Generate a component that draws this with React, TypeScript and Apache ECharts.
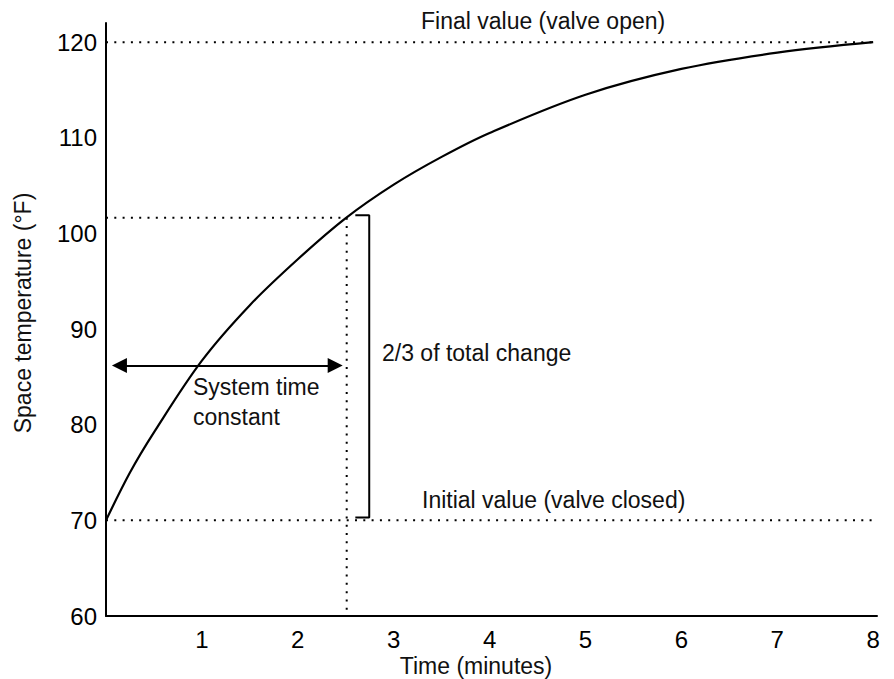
import React, { useEffect, useRef } from "react";
import * as echarts from "echarts";

// Curve
const timeMin = [0, 0.25, 0.5, 1, 1.5, 2, 2.5, 3, 3.5, 4, 5, 6, 7, 8];
const tempF = [70, 75.0, 79.2, 86.7, 92.5, 97.3, 101.6, 105.1, 108.0, 110.5, 114.5, 117.2, 118.9, 120];

// Reference levels
const initialValue = 70;
const finalValue = 120;
const tauValue = 101.65; // ~63% of the change
const tauTime = 2.51;
const bracketTop = 101.9;
const bracketBottom = 70.3;
const bracketLeft = 2.6;
const bracketRight = 2.745;
const arrowLevel = 86.2;
const arrowFrom = 0.14;
const arrowTo = 2.39;

const xTicks = [1, 2, 3, 4, 5, 6, 7, 8];
const yTicks = [60, 70, 80, 90, 100, 110, 120];

const labels = {
  final: "Final value (valve open)",
  initial: "Initial value (valve closed)",
  change: "2/3 of total change",
  tc1: "System time",
  tc2: "constant",
  xName: "Time (minutes)",
  yName: "Space temperature (°F)",
};

const FONT = "'Liberation Sans', Arial, sans-serif";
const dotted = { color: "#000", width: 2, type: [2, 6.3] as any, cap: "butt" as any };

export default function App() {
  const ref = useRef<HTMLDivElement>(null);
  useEffect(() => {
    if (!ref.current) return;
    const chart = echarts.init(ref.current, null, { renderer: "svg" });
    const txt = (text: string, x: number, y: number, align = "left", rotation = 0) => ({
      type: "text",
      x,
      y,
      rotation,
      silent: true,
      style: {
        text,
        fill: "#111",
        font: `23px ${FONT}`,
        align,
        verticalAlign: "middle",
      },
    });
    chart.setOption({
      animation: false,
      backgroundColor: "#fff",
      grid: { left: 106, right: 17, top: 23, bottom: 63, containLabel: false },
      xAxis: {
        type: "value",
        min: 0,
        max: 8.04,
        interval: 1,
        axisLine: { show: true, lineStyle: { color: "#000", width: 2 } },
        axisTick: { show: false },
        splitLine: { show: false },
        axisLabel: {
          color: "#000",
          fontSize: 24,
          fontFamily: FONT,
          margin: 11,
          formatter: (v: number) => (xTicks.includes(v) ? String(v) : ""),
        },
      },
      yAxis: {
        type: "value",
        min: 60,
        max: 122,
        interval: 10,
        axisLine: { show: true, lineStyle: { color: "#000", width: 2 } },
        axisTick: { show: false },
        splitLine: { show: false },
        axisLabel: {
          color: "#000",
          fontSize: 24,
          fontFamily: FONT,
          margin: 9,
          formatter: (v: number) => (yTicks.includes(v) ? String(v) : ""),
        },
      },
      series: [
        {
          type: "line",
          data: [[0, finalValue], [8, finalValue]],
          symbol: "none",
          lineStyle: dotted,
          silent: true,
          z: 1,
        },
        {
          type: "line",
          data: [[0, initialValue], [8, initialValue]],
          symbol: "none",
          lineStyle: dotted,
          silent: true,
          z: 1,
        },
        {
          type: "line",
          data: [[0, tauValue], [tauTime, tauValue]],
          symbol: "none",
          lineStyle: dotted,
          silent: true,
          z: 1,
        },
        {
          type: "line",
          data: [[tauTime, tauValue], [tauTime, 60]],
          symbol: "none",
          lineStyle: dotted,
          silent: true,
          z: 1,
        },
        {
          type: "line",
          data: [
            [bracketLeft, bracketTop],
            [bracketRight, bracketTop],
            [bracketRight, bracketBottom],
            [bracketLeft, bracketBottom],
          ],
          symbol: "none",
          lineStyle: { color: "#000", width: 2 },
          silent: true,
          z: 2,
        },
        {
          type: "line",
          data: timeMin.map((t, i) => [t, tempF[i]]),
          symbol: "none",
          smooth: 0.35,
          lineStyle: { color: "#000", width: 2.2 },
          silent: true,
          z: 3,
          markLine: {
            silent: true,
            symbol: ["triangle", "triangle"],
            symbolSize: [15, 15],
            label: { show: false },
            lineStyle: { color: "#000", width: 2, type: "solid" },
            data: [[{ coord: [arrowFrom, arrowLevel] }, { coord: [arrowTo, arrowLevel] }]],
          },
        },
      ],
      graphic: [
        txt(labels.final, 421, 21),
        txt(labels.initial, 422, 500),
        txt(labels.change, 382, 353),
        txt(labels.tc1, 193, 387),
        txt(labels.tc2, 193, 417),
        txt(labels.xName, 476, 666, "center"),
        txt(labels.yName, 23, 313, "center", Math.PI / 2),
      ],
    });
    return () => chart.dispose();
  }, []);
  return (
    <div
      ref={ref}
      style={{ position: "absolute", left: 0, top: 0, width: 894, height: 679 }}
    />
  );
}
